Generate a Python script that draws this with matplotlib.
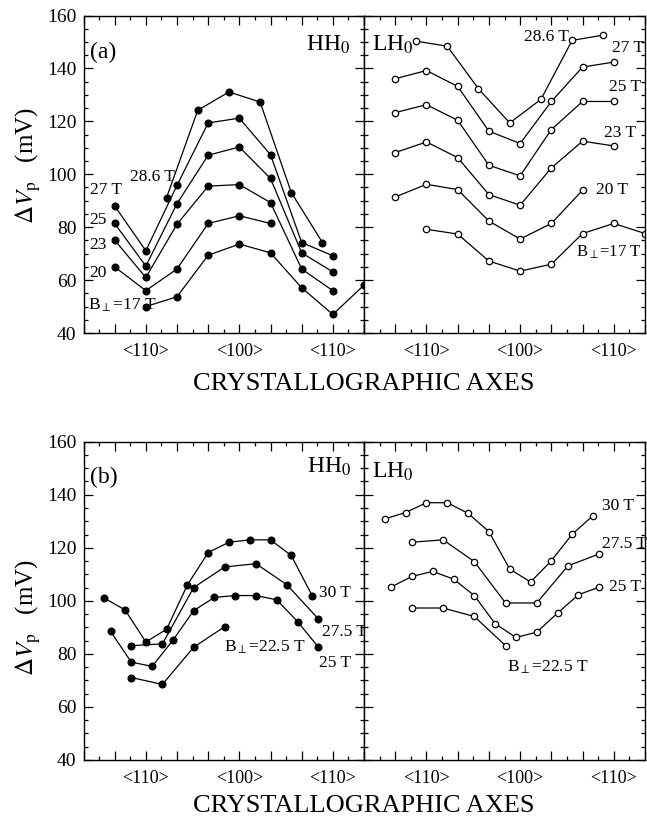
import matplotlib
matplotlib.use('Agg')
import matplotlib.pyplot as plt
from matplotlib.ticker import FixedLocator, MultipleLocator, FuncFormatter

plt.rcParams['font.family'] = ['Liberation Serif', 'DejaVu Serif']
plt.rcParams['mathtext.fontset'] = 'stix'

# Angle measured from <100>, in degrees. <110> sits at -45 and +45.
axis_ticks = [-45, 0, 45]
axis_names = ['<110>', '<100>', '<110>']

# (a) HH0, filled symbols
hh17_x = [-45, -30, -15, 0, 15, 30, 45, 60]
hh17_y = [50.0, 53.7, 69.4, 73.6, 70.3, 57.1, 47.0, 58.1]
hh20_x = [-60, -45, -30, -15, 0, 15]
hh20_y = [65.0, 56.0, 64.2, 81.4, 84.3, 81.4]
hh23_x = [-60, -45, -30, -15, 0, 15, 30, 45]
hh23_y = [75.1, 61.0, 81.1, 95.5, 96.1, 89.3, 64.2, 56.0]
hh25_x = [-60, -45, -30, -15, 0, 15, 30, 45]
hh25_y = [81.4, 65.3, 88.9, 107.2, 110.3, 98.4, 70.3, 63.1]
hh27_x = [-60, -45, -30, -15, 0, 15, 30, 45]
hh27_y = [88.0, 71.1, 95.8, 119.4, 121.2, 107.4, 74.2, 69.2]
hh286_x = [-35, -20, -5, 10, 25, 40]
hh286_y = [91.2, 124.2, 131.1, 127.3, 93.1, 74.2]

# (a) LH0, open symbols
lh17_x = [-45, -30, -15, 0, 15, 30, 45, 60]
lh17_y = [79.2, 77.4, 67.2, 63.4, 66.0, 77.6, 81.4, 77.6]
lh20_x = [-60, -45, -30, -15, 0, 15, 30]
lh20_y = [91.4, 96.2, 94.2, 82.3, 75.5, 81.4, 94.0]
lh23_x = [-60, -45, -30, -15, 0, 15, 30, 45]
lh23_y = [108.2, 112.2, 106.3, 92.3, 88.3, 102.4, 112.5, 110.7]
lh25_x = [-60, -45, -30, -15, 0, 15, 30, 45]
lh25_y = [123.3, 126.3, 120.4, 103.4, 99.4, 116.9, 127.5, 127.5]
lh27_x = [-60, -45, -30, -15, 0, 15, 30, 45]
lh27_y = [136.1, 139.2, 133.2, 116.3, 111.6, 127.5, 140.5, 142.4]
lh286_x = [-50, -35, -20, -5, 10, 25, 40]
lh286_y = [150.3, 148.4, 132.3, 119.4, 128.3, 150.6, 152.6]

# (b) HH0
hh225_x = [-52, -37, -22, -7]
hh225_y = [71.1, 68.5, 82.5, 90.3]
hh25b_x = [-62, -52, -42, -32, -22, -12, -2, 8, 18, 28, 38]
hh25b_y = [88.5, 76.9, 75.3, 85.1, 96.3, 101.3, 102.0, 102.0, 100.4, 92.2, 82.6]
hh275_x = [-52, -37, -22, -7, 8, 23, 38]
hh275_y = [83.1, 83.8, 105.0, 112.8, 114.0, 106.0, 93.2]
hh30_x = [-65, -55, -45, -35, -25, -15, -5, 5, 15, 25, 35]
hh30_y = [101.0, 96.6, 84.5, 89.3, 106.0, 118.2, 122.1, 123.0, 123.0, 117.1, 102.0]

# (b) LH0
lh225_x = [-52, -37, -22, -7]
lh225_y = [97.3, 97.3, 94.1, 83.1]
lh25b_x = [-62, -52, -42, -32, -22, -12, -2, 8, 18, 28, 38]
lh25b_y = [105.2, 109.2, 111.1, 108.2, 102.0, 91.4, 86.2, 88.2, 95.4, 102.3, 105.2]
lh275_x = [-52, -37, -22, -7, 8, 23, 38]
lh275_y = [122.1, 123.0, 114.8, 99.2, 99.2, 113.2, 117.7]
lh30_x = [-65, -55, -45, -35, -25, -15, -5, 5, 15, 25, 35]
lh30_y = [130.9, 133.3, 137.0, 137.0, 133.0, 126.1, 112.0, 107.1, 115.1, 125.1, 132.1]


def style(ax, first):
    """Frame, ticks and limits shared by all four panels."""
    ax.set_xlim(-75, 60)
    ax.set_ylim(40, 160)
    ax.xaxis.set_major_locator(FixedLocator(list(range(-75, 61, 15))))
    ax.xaxis.set_minor_locator(MultipleLocator(7.5))
    names = dict(zip(axis_ticks, axis_names))
    ax.xaxis.set_major_formatter(FuncFormatter(lambda v, p: names.get(int(round(v)), '')))
    ax.yaxis.set_major_locator(MultipleLocator(20))
    ax.yaxis.set_minor_locator(MultipleLocator(5))
    ax.tick_params(which='both', direction='in', top=True, right=True,
                   width=0.9, pad=7, labelleft=first)
    ax.tick_params(axis='x', labelsize=13)
    ax.tick_params(axis='y', labelsize=14, pad=5)
    ax.tick_params(which='major', length=6.5)
    ax.tick_params(which='minor', length=3)
    for s in ax.spines.values():
        s.set_linewidth(1.0)


def curve(ax, x, y, filled):
    if filled:
        ax.plot(x, y, '-o', color='black', lw=0.9, ms=4.8, mfc='black', mec='black')
    else:
        ax.plot(x, y, '-o', color='black', lw=0.9, ms=4.6, mfc='white', mec='black', mew=0.9)


fig = plt.figure(figsize=(6.47, 8.33), dpi=100)
W, H = 647, 833


def box(l, t, r, b):
    return [l / W, 1 - b / H, (r - l) / W, (b - t) / H]


ax1 = fig.add_axes(box(83.5, 15.5, 364, 333))
ax2 = fig.add_axes(box(364, 15.5, 645, 333))
ax3 = fig.add_axes(box(83.5, 441.7, 364, 760))
ax4 = fig.add_axes(box(364, 441.7, 645, 760))
for ax, first in [(ax1, True), (ax2, False), (ax3, True), (ax4, False)]:
    style(ax, first)

for x, y in [(hh17_x, hh17_y), (hh20_x, hh20_y), (hh23_x, hh23_y),
             (hh25_x, hh25_y), (hh27_x, hh27_y), (hh286_x, hh286_y)]:
    curve(ax1, x, y, True)
for x, y in [(lh17_x, lh17_y), (lh20_x, lh20_y), (lh23_x, lh23_y),
             (lh25_x, lh25_y), (lh27_x, lh27_y), (lh286_x, lh286_y)]:
    curve(ax2, x, y, False)
for x, y in [(hh225_x, hh225_y), (hh25b_x, hh25b_y), (hh275_x, hh275_y), (hh30_x, hh30_y)]:
    curve(ax3, x, y, True)
for x, y in [(lh225_x, lh225_y), (lh25b_x, lh25b_y), (lh275_x, lh275_y), (lh30_x, lh30_y)]:
    curve(ax4, x, y, False)

fs = 12.5
big = 17
kw = dict(fontsize=fs, va='center', clip_on=False)

# panel (a) annotations
ax1.text(-72, 146.2, '(a)', fontsize=big, va='center')
ax1.text(32, 148.9, r'HH$_0$', fontsize=big, va='center')
ax1.text(-72, 94.1, '27 T', **kw)
ax1.text(-72, 82.7, '25', **kw)
ax1.text(-72, 73.3, '23', **kw)
ax1.text(-72, 62.7, '20', **kw)
ax1.text(-73, 50.6, r'B$_{\perp}$=17 T', **kw)
ax1.text(-52.7, 99.0, '28.6 T', **kw)

ax2.text(-71, 148.9, r'LH$_0$', fontsize=big, va='center')
ax2.text(23.6, 151.9, '28.6 T', ha='right', **kw)
ax2.text(44.2, 147.7, '27 T', **kw)
ax2.text(42.8, 133.0, '25 T', **kw)
ax2.text(40.4, 115.6, '23 T', **kw)
ax2.text(36.6, 94.0, '20 T', **kw)
ax2.text(58.5, 70.6, r'B$_{\perp}$=17 T', ha='right', fontsize=12, va='center')

# panel (b) annotations
ax3.text(-72, 146.7, '(b)', fontsize=big, va='center')
ax3.text(32.5, 150.5, r'HH$_0$', fontsize=big, va='center')
ax3.text(38.3, 103.0, '30 T', **kw)
ax3.text(39.8, 88.3, '27.5 T', **kw)
ax3.text(38.3, 76.7, '25 T', **kw)
ax3.text(-7.2, 82.3, r'B$_{\perp}$=22.5 T', **kw)

ax4.text(-71, 148.6, r'LH$_0$', fontsize=big, va='center')
ax4.text(39.4, 135.8, '30 T', **kw)
ax4.text(39.4, 121.5, '27.5 T', **kw)
ax4.text(42.8, 105.3, '25 T', **kw)
ax4.text(-6.1, 74.8, r'B$_{\perp}$=22.5 T', **kw)

# axis titles
for yc in [165, 617]:
    fig.text(28 / W, 1 - yc / H, r'$\Delta V_{\rm p}$   (mV)', rotation=90,
             fontsize=18, ha='center', va='center')
for yc in [384, 806]:
    fig.text(364 / W, 1 - yc / H, 'CRYSTALLOGRAPHIC AXES', fontsize=19,
             ha='center', va='center')

fig.savefig('out.png', dpi=100)
